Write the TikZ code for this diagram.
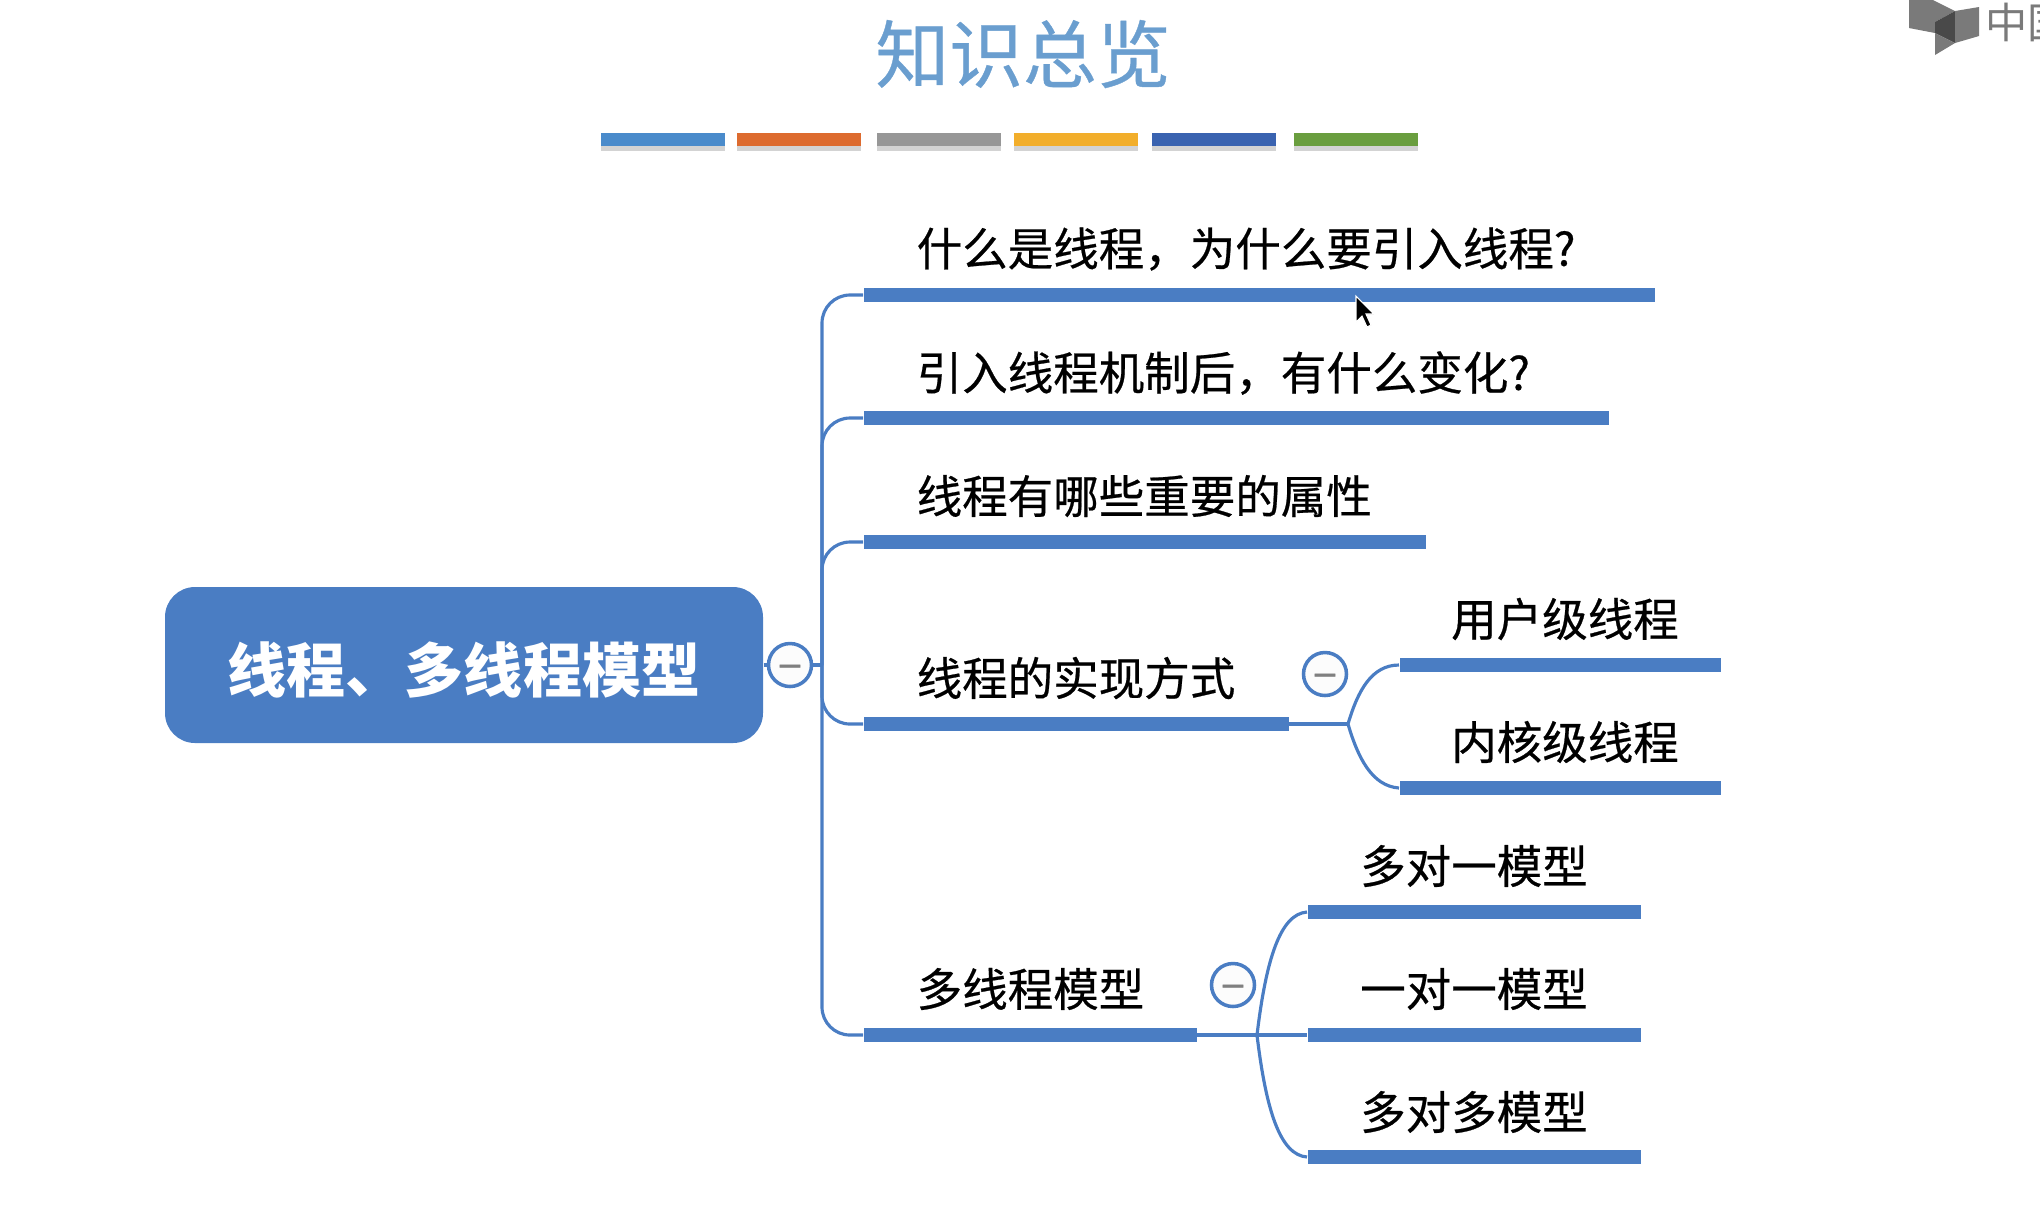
\documentclass[tikz,border=0pt]{standalone}
\usepackage{fontspec}
\setmainfont{Noto Sans CJK SC}
\newfontfamily\heavyfont[FakeBold=0.5]{Noto Sans CJK SC}
\usetikzlibrary{shadows}
\definecolor{mapblue}{HTML}{4A7DC3}
\definecolor{titleblue}{HTML}{6A9ECF}
\definecolor{logogrey}{HTML}{7A7A7A}
\begin{document}
\begin{tikzpicture}[
  bar/.style={fill=mapblue, inner sep=0pt, minimum height=0.135cm, anchor=west},
  stripe/.style={inner sep=0pt, minimum height=0.13cm, minimum width=1.245cm, anchor=west, drop shadow={shadow xshift=0cm, shadow yshift=-0.05cm, opacity=0.35}},
  link/.style={draw=mapblue, line width=0.9pt},
  fold/.style={circle, draw=mapblue, line width=1pt, fill=black!1, minimum size=0.43cm, inner sep=0pt, text=gray, text height=0.28cm, text depth=0cm, font=\fontsize{13}{13}\heavyfont},
  label/.style={font=\fontsize{12.95}{15}\heavyfont, text=black, inner sep=0pt}
]
\useasboundingbox (0,0) rectangle (20.4,-12.08);
\clip (0,0) rectangle (20.4,-12.08);

\node[font=\fontsize{21}{24}\heavyfont, text=titleblue, inner sep=0pt] (title) at (10.23,-0.54) {知识总览};
\node[stripe, fill={rgb,255:red,74;green,139;blue,203}] (s1) at (6.00,-1.395) {};
\node[stripe, fill={rgb,255:red,221;green,107;blue,47}] (s2) at (7.36,-1.395) {};
\node[stripe, fill={rgb,255:red,151;green,151;blue,151}] (s3) at (8.76,-1.395) {};
\node[stripe, fill={rgb,255:red,242;green,174;blue,43}] (s4) at (10.13,-1.395) {};
\node[stripe, fill={rgb,255:red,58;green,99;blue,176}] (s5) at (11.51,-1.395) {};
\node[stripe, fill={rgb,255:red,106;green,158;blue,63}] (s6) at (12.93,-1.395) {};

\node[fill=mapblue, rounded corners=0.3cm, minimum width=5.98cm, minimum height=1.56cm, inner sep=0pt, text=white, text height=0.54cm, text depth=0cm, font=\fontsize{16.8}{20}\selectfont\bfseries] (root) at (4.64,-6.65) {线程、多线程模型};
\node[fold] (f1) at (7.90,-6.65) {–};
\coordinate (hub) at (8.22,-6.65);
\draw[link] (root) -- (f1);
\draw[link] (f1) -- (hub);

\node[bar, minimum width=7.91cm] (b1) at (8.63,-2.95) {};
\node[bar, minimum width=7.45cm] (b2) at (8.63,-4.18) {};
\node[bar, minimum width=5.62cm] (b3) at (8.63,-5.42) {};
\node[bar, minimum width=4.25cm] (b4) at (8.63,-7.24) {};
\node[bar, minimum width=3.33cm] (b5) at (8.63,-10.35) {};
\draw[link, rounded corners=0.28cm] (hub) |- (b1.west);
\draw[link, rounded corners=0.28cm] (hub) |- (b2.west);
\draw[link, rounded corners=0.28cm] (hub) |- (b3.west);
\draw[link, rounded corners=0.28cm] (hub) |- (b4.west);
\draw[link, rounded corners=0.28cm] (hub) |- (b5.west);

\node[label, anchor=west] (t1) at (9.16,-2.49) {什么是线程，为什么要引入线程?};
\node[label, anchor=west] (t2) at (9.16,-3.73) {引入线程机制后，有什么变化?};
\node[label, anchor=west] (t3) at (9.16,-4.96) {线程有哪些重要的属性};
\node[label, anchor=west] (t4) at (9.16,-6.78) {线程的实现方式};
\node[label, anchor=west] (t5) at (9.16,-9.89) {多线程模型};

\node[fold] (f2) at (13.25,-6.74) {–};
\coordinate (fork1) at (13.48,-7.24);
\node[bar, minimum width=3.21cm] (c1) at (13.99,-6.65) {};
\node[bar, minimum width=3.21cm] (c2) at (13.99,-7.88) {};
\draw[link] (b4.east) -- (fork1);
\draw[link] (fork1) .. controls (13.58,-6.9) and (13.72,-6.65) .. (c1.west);
\draw[link] (fork1) .. controls (13.58,-7.58) and (13.72,-7.86) .. (c2.west);
\node[label] (u1) at (15.65,-6.19) {用户级线程};
\node[label] (u2) at (15.65,-7.42) {内核级线程};

\node[fold] (f3) at (12.33,-9.85) {–};
\coordinate (fork2) at (12.57,-10.35);
\node[bar, minimum width=3.33cm] (m1) at (13.07,-9.12) {};
\node[bar, minimum width=3.33cm] (m2) at (13.07,-10.35) {};
\node[bar, minimum width=3.33cm] (m3) at (13.07,-11.57) {};
\draw[link] (b5.east) -- (fork2);
\draw[link] (fork2) .. controls (12.66,-9.6) and (12.8,-9.14) .. (m1.west);
\draw[link] (fork2) -- (m2.west);
\draw[link] (fork2) .. controls (12.66,-11.1) and (12.8,-11.55) .. (m3.west);
\node[label] (v1) at (14.74,-8.66) {多对一模型};
\node[label] (v2) at (14.74,-9.89) {一对一模型};
\node[label] (v3) at (14.74,-11.12) {多对多模型};

\fill[logogrey] (19.09,0) -- (19.33,0) -- (19.55,-0.11) -- (19.35,-0.22) -- (19.35,-0.33) -- (19.09,-0.28) -- cycle;
\fill[logogrey!60!black] (19.35,-0.22) -- (19.55,-0.11) -- (19.55,-0.43) -- (19.35,-0.33) -- cycle;
\fill[logogrey] (19.55,-0.11) -- (19.79,-0.07) -- (19.79,-0.36) -- (19.55,-0.43) -- cycle;
\fill[logogrey] (19.35,-0.33) -- (19.55,-0.43) -- (19.35,-0.55) -- cycle;
\node[anchor=west, inner sep=0pt, text=logogrey, font=\fontsize{12}{14}\selectfont] (logo) at (19.85,-0.22) {中国};

\fill[black, draw=white, line width=0.3pt] (13.56,-2.96) -- (13.56,-3.22) -- (13.62,-3.16) -- (13.67,-3.27) -- (13.71,-3.25) -- (13.66,-3.14) -- (13.74,-3.14) -- cycle;
\end{tikzpicture}
\end{document}
